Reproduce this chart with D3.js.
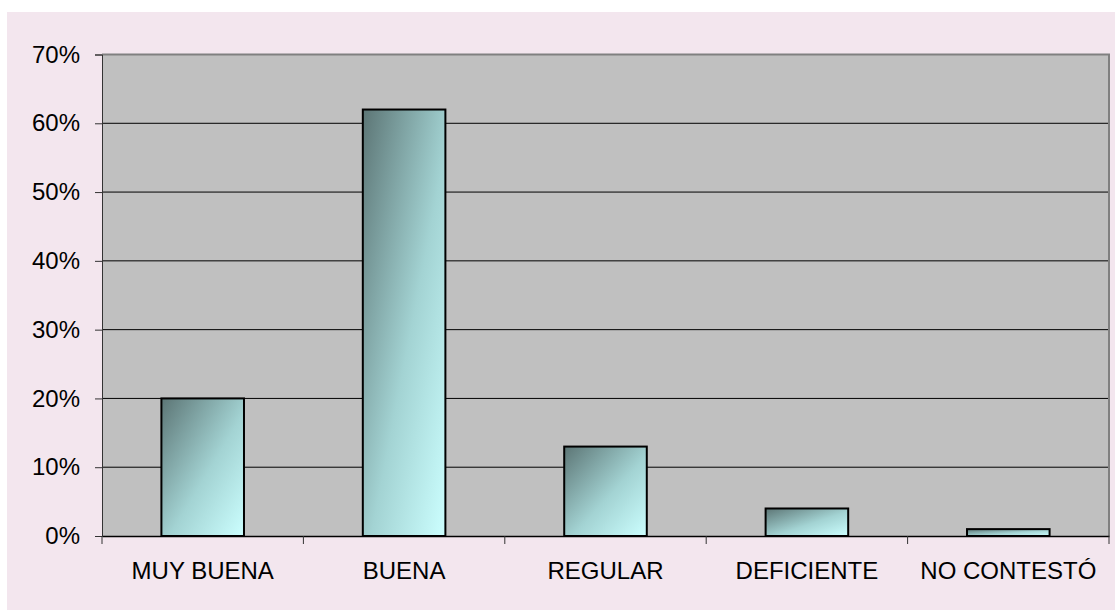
<!DOCTYPE html>
<html>
<head>
<meta charset="utf-8">
<script src="https://cdn.jsdelivr.net/npm/d3@7"></script>
<style>
  body { margin:0; background:#ffffff; }
  svg { display:block; font-family:"Liberation Sans", Arial, sans-serif; }
</style>
</head>
<body>
<svg></svg>
<script>
var categories = ["MUY BUENA","BUENA","REGULAR","DEFICIENTE","NO CONTESTÓ"];
var values = [0.20, 0.62, 0.13, 0.04, 0.01];
var yTicks = [0, 0.1, 0.2, 0.3, 0.4, 0.5, 0.6, 0.7];

var width = 1115, height = 610;
var plotLeft = 102, plotRight = 1109, plotTop = 54.5, plotBot = 536;

var svg = d3.select("svg")
            .attr("width",width)
            .attr("height",height);

var defs = svg.append("defs");
var grad = defs.append("linearGradient")
               .attr("id","barGrad")
               .attr("x1","0").attr("y1","0")
               .attr("x2","1").attr("y2","1");
grad.append("stop").attr("offset","0%").attr("stop-color","#5c7575");
grad.append("stop").attr("offset","55%").attr("stop-color","#a3d3d3");
grad.append("stop").attr("offset","100%").attr("stop-color","#ccffff");

// chart background
svg.append("rect")
   .attr("x",7).attr("y",12)
   .attr("width",1108).attr("height",598)
   .attr("fill","#f3e6ee");

var xScale = d3.scaleBand()
               .domain(categories)
               .range([plotLeft,plotRight])
               .paddingInner(0.59)
               .paddingOuter(0.295);
var yScale = d3.scaleLinear()
               .domain([0,0.7])
               .range([plotBot,plotTop]);

// plot area
svg.append("rect")
   .attr("x",plotLeft).attr("y",plotTop)
   .attr("width",plotRight-plotLeft).attr("height",plotBot-plotTop)
   .attr("fill","#c0c0c0");

// gridlines
svg.selectAll("line.grid")
   .data(yTicks.slice(1,7))
   .enter()
   .append("line")
   .attr("class","grid")
   .attr("x1",plotLeft).attr("x2",plotRight)
   .attr("y1",function(d){ return yScale(d); })
   .attr("y2",function(d){ return yScale(d); })
   .attr("stroke","#000")
   .attr("stroke-width",1);

// top and right border of plot area
svg.append("path")
   .attr("d","M"+plotLeft+","+plotTop+"H"+plotRight+"V"+plotBot)
   .attr("fill","none")
   .attr("stroke","#808080")
   .attr("stroke-width",2);

// bars
svg.selectAll("rect.bar")
   .data(values)
   .enter()
   .append("rect")
   .attr("class","bar")
   .attr("x",function(d,i){ return xScale(categories[i]); })
   .attr("y",function(d){ return yScale(d); })
   .attr("width",xScale.bandwidth())
   .attr("height",function(d){ return plotBot - yScale(d); })
   .attr("fill","url(#barGrad)")
   .attr("stroke","#000")
   .attr("stroke-width",2);

// y axis
var yAxis = d3.axisLeft()
              .scale(yScale)
              .tickValues(yTicks)
              .tickFormat(d3.format(".0%"))
              .tickSize(7)
              .tickPadding(15);
var gy = svg.append("g")
            .attr("transform","translate("+plotLeft+",0)")
            .call(yAxis);
gy.select(".domain").attr("stroke","#333");
gy.selectAll(".tick line").attr("stroke","#333");
gy.selectAll("text")
  .attr("font-size",24)
  .attr("fill","#000")
  .attr("font-family","Liberation Sans, Arial, sans-serif");

// x axis
var xAxis = d3.axisBottom()
              .scale(xScale)
              .tickSize(0)
              .tickPadding(26);
var gx = svg.append("g")
            .attr("transform","translate(0,"+plotBot+")")
            .call(xAxis);
gx.select(".domain").attr("stroke","#000").attr("stroke-width",1.5);
gx.selectAll("text")
  .attr("font-size",24)
  .attr("fill","#000")
  .attr("font-family","Liberation Sans, Arial, sans-serif");

// category separator ticks
svg.selectAll("line.sep")
   .data(d3.range(categories.length+1))
   .enter()
   .append("line")
   .attr("class","sep")
   .attr("x1",function(i){ return plotLeft + i*(plotRight-plotLeft)/categories.length; })
   .attr("x2",function(i){ return plotLeft + i*(plotRight-plotLeft)/categories.length; })
   .attr("y1",plotBot).attr("y2",plotBot+8)
   .attr("stroke","#333");
</script>
</body>
</html>
